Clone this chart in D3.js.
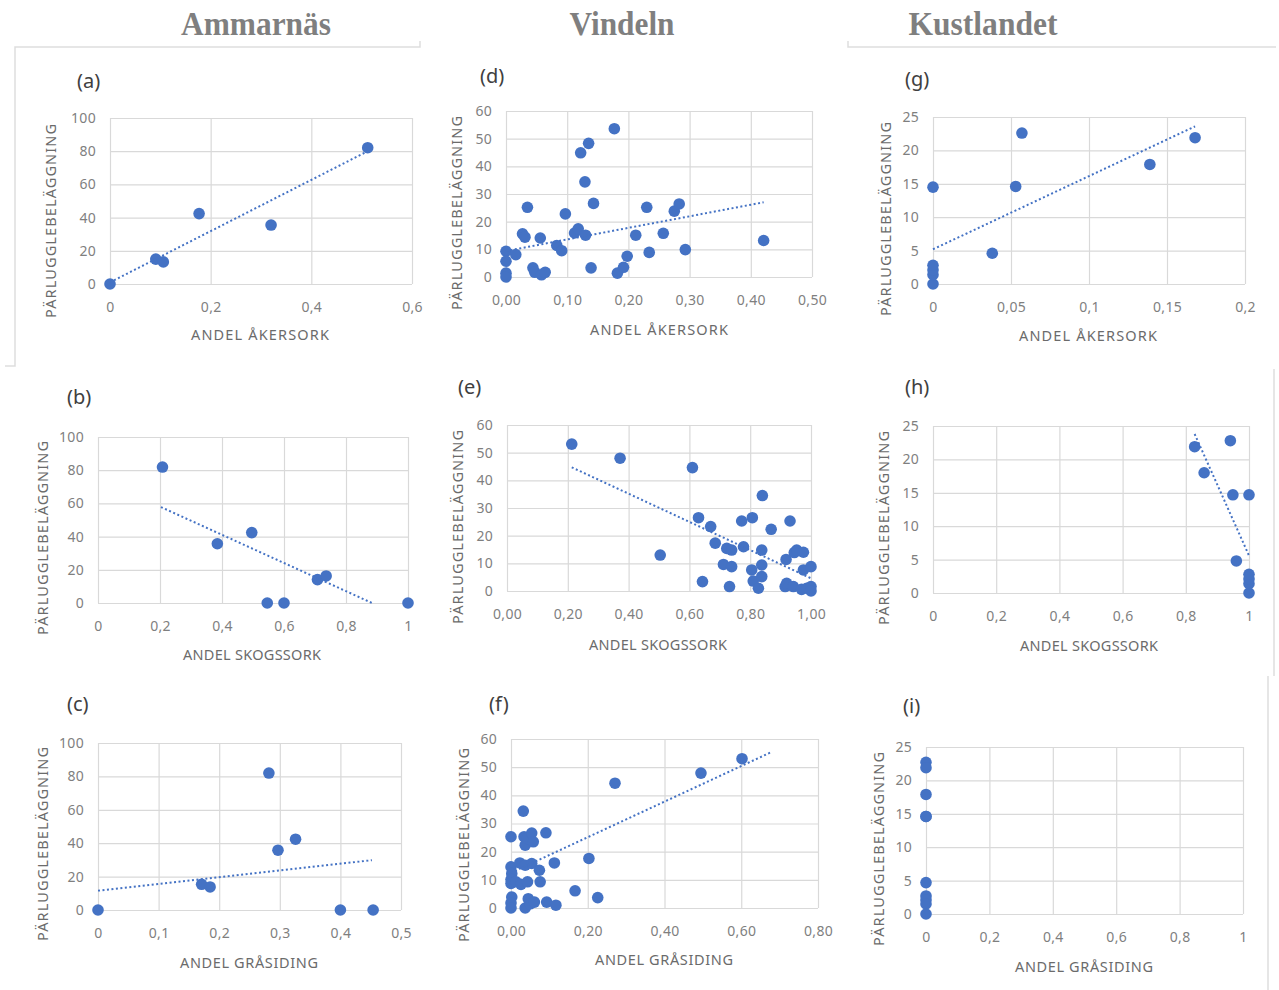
<!DOCTYPE html>
<html>
<head>
<meta charset="utf-8">
<script src="https://cdn.jsdelivr.net/npm/d3@7"></script>
<style>
  body { margin: 0; background: #ffffff; }
  svg { display: block; }
</style>
</head>
<body>
<div id="chart"></div>
<script>

//Region headings
const regions = ["Ammarnäs", "Vindeln", "Kustlandet"];

//Axis titles
const yTitle = "PÄRLUGGLEBELÄGGNING";
const xTitles = ["ANDEL ÅKERSORK", "ANDEL SKOGSSORK", "ANDEL GRÅSIDING"];

//Ammarnäs (a) åkersork
const aX = [0, 0.091, 0.106, 0.177, 0.32, 0.512];
const aY = [0, 15, 13.3, 42.4, 35.5, 82.1];
const aTrend = [[0, 1], [0.512, 80]];

//Ammarnäs (b) skogssork
const bX = [0.208, 0.385, 0.496, 0.546, 0.600, 0.708, 0.736, 1.0];
const bY = [81.9, 35.7, 42.4, 0, 0, 14.1, 16.3, 0];
const bTrend = [[0.203, 57.8], [0.884, 0]];

//Ammarnäs (c) gråsiding
const cX = [0, 0.171, 0.185, 0.282, 0.297, 0.326, 0.400, 0.454];
const cY = [0, 15.4, 13.8, 82, 35.8, 42.4, 0, 0];
const cTrend = [[0, 11.6], [0.452, 29.8]];

//Vindeln (d) åkersork
const dX = [0, 0, 0, 0, 0.016, 0.035, 0.027, 0.031, 0.044, 0.047, 0.056, 0.058, 0.064, 0.083, 0.091, 0.097, 0.112, 0.118,
            0.122, 0.135, 0.129, 0.130, 0.139, 0.143, 0.177, 0.182, 0.192, 0.198, 0.212, 0.230, 0.234, 0.257, 0.275, 0.283, 0.293, 0.421];
const dY = [9.3, 5.7, 1.4, 0, 8.1, 25.2, 15.6, 14.4, 3.3, 1.7, 14.1, 0.8, 1.7, 11.4, 9.5, 22.8, 15.9, 17.4,
            44.9, 48.3, 34.4, 15.1, 3.3, 26.6, 53.6, 1.4, 3.5, 7.5, 15.1, 25.2, 8.9, 15.8, 23.8, 26.4, 9.9, 13.2];
const dTrend = [[0, 9.4], [0.421, 27]];

//Vindeln (e) skogssork
const eX = [0.213, 0.372, 0.610, 0.504, 0.630, 0.643, 0.670, 0.685, 0.712, 0.723, 0.739, 0.739, 0.732, 0.772, 0.778, 0.807, 0.805, 0.810, 0.827,
            0.840, 0.838, 0.838, 0.838, 0.869, 0.918, 0.915, 0.920, 0.931, 0.945, 0.953, 0.942, 0.969, 0.975, 0.975, 0.986, 1.0, 1.0, 1.0];
const eY = [53.1, 48, 44.6, 13.0, 26.5, 3.4, 23.3, 17.3, 9.6, 15.4, 14.8, 8.8, 1.6, 25.3, 16.0, 26.5, 7.6, 3.6, 1.0,
            34.5, 14.8, 9.4, 5.2, 22.3, 11.4, 1.6, 2.8, 25.3, 13.9, 14.8, 1.6, 0.6, 14.0, 7.6, 1.0, 8.8, 1.6, 0];
const eTrend = [[0.213, 44.7], [1.0, 4.6]];

//Vindeln (f) gråsiding
const fX = [0, 0, 0.002, 0, 0, 0.002, 0, 0, 0.013, 0.023, 0.026, 0.032, 0.034, 0.037, 0.037, 0.037, 0.043, 0.043,
            0.045, 0.050, 0.054, 0.054, 0.058, 0.061, 0.074, 0.076, 0.091, 0.093, 0.113, 0.117, 0.167, 0.203, 0.226, 0.271, 0.495, 0.602];
const fY = [25.3, 14.6, 12.2, 10.1, 8.7, 3.9, 1.8, 0, 9.3, 16.0, 8.4, 34.4, 25.3, 22.3, 15.2, 0, 24.7, 9.3,
            3.3, 1.5, 26.6, 15.8, 23.5, 2.1, 13.4, 9.3, 26.7, 2.1, 16.0, 1.0, 6.1, 17.6, 3.7, 44.3, 47.9, 53.0];
const fTrend = [[0, 12.5], [0.676, 55.2]];

//Kustlandet (g) åkersork
const gX = [0, 0, 0, 0, 0, 0.038, 0.053, 0.057, 0.139, 0.168];
const gY = [0, 1.4, 2.1, 2.8, 14.5, 4.6, 14.6, 22.6, 17.9, 21.9];
const gTrend = [[0, 5.2], [0.168, 23.6]];

//Kustlandet (h) skogssork
const hX = [0.828, 0.858, 0.941, 0.949, 1.0, 0.96, 1, 1, 1, 1];
const hY = [21.9, 18.0, 22.8, 14.7, 14.7, 4.8, 0, 1.4, 2.1, 2.8];
const hTrend = [[0.828, 23.8], [1.0, 5.6]];

//Kustlandet (i) gråsiding
const iX = [0, 0, 0, 0, 0, 0, 0, 0, 0, 0];
const iY = [22.7, 21.9, 17.9, 14.6, 14.6, 4.7, 2.7, 2.1, 1.5, 0];

//Tick values
const xTicksA = [0, 0.2, 0.4, 0.6];
const xTicksC = [0, 0.1, 0.2, 0.3, 0.4, 0.5];
const xTicksD = [0, 0.1, 0.2, 0.3, 0.4, 0.5];
const xTicksF = [0, 0.2, 0.4, 0.6, 0.8];
const xTicksG = [0, 0.05, 0.1, 0.15, 0.2];
const xTicksUnit = [0, 0.2, 0.4, 0.6, 0.8, 1];
const yTicks100 = [0, 20, 40, 60, 80, 100];
const yTicks60 = [0, 10, 20, 30, 40, 50, 60];
const yTicks25 = [0, 5, 10, 15, 20, 25];

//Swedish decimal comma
const sv = d3.formatLocale({decimal: ",", thousands: " ", grouping: [3], currency: ["", " kr"]});
const fmtTrim = sv.format(".2~f");
const fmtFix = sv.format(".2f");

const blue = "#4472C4";

//Panels: data plus where each one sits on the page
const panels = [
  {lab: "(a)", xs: aX, ys: aY, trend: aTrend, xt: 0, xTicks: xTicksA, yTicks: yTicks100, fmt: fmtTrim,
   box: [110, 118, 412, 284], labPos: [77, 88], xtPos: [260, 340], ytPos: [56, 221]},
  {lab: "(b)", xs: bX, ys: bY, trend: bTrend, xt: 1, xTicks: xTicksUnit, yTicks: yTicks100, fmt: fmtTrim,
   box: [98, 437, 408, 603], labPos: [67, 404], xtPos: [252, 660], ytPos: [48, 538]},
  {lab: "(c)", xs: cX, ys: cY, trend: cTrend, xt: 2, xTicks: xTicksC, yTicks: yTicks100, fmt: fmtTrim,
   box: [98, 743, 401, 910], labPos: [67, 711], xtPos: [249, 968], ytPos: [48, 844]},
  {lab: "(d)", xs: dX, ys: dY, trend: dTrend, xt: 0, xTicks: xTicksD, yTicks: yTicks60, fmt: fmtFix,
   box: [506, 111, 812, 277], labPos: [480, 83], xtPos: [659, 335], ytPos: [462, 213]},
  {lab: "(e)", xs: eX, ys: eY, trend: eTrend, xt: 1, xTicks: xTicksUnit, yTicks: yTicks60, fmt: fmtFix,
   box: [507, 425, 811, 591], labPos: [458, 394], xtPos: [658, 650], ytPos: [463, 527]},
  {lab: "(f)", xs: fX, ys: fY, trend: fTrend, xt: 2, xTicks: xTicksF, yTicks: yTicks60, fmt: fmtFix,
   box: [511, 739, 818, 908], labPos: [489, 711], xtPos: [664, 965], ytPos: [469, 845]},
  {lab: "(g)", xs: gX, ys: gY, trend: gTrend, xt: 0, xTicks: xTicksG, yTicks: yTicks25, fmt: fmtTrim,
   box: [933, 117, 1245, 284], labPos: [905, 86], xtPos: [1088, 341], ytPos: [891, 219]},
  {lab: "(h)", xs: hX, ys: hY, trend: hTrend, xt: 1, xTicks: xTicksUnit, yTicks: yTicks25, fmt: fmtTrim,
   box: [933, 426, 1249, 593], labPos: [905, 394], xtPos: [1089, 651], ytPos: [889, 528]},
  {lab: "(i)", xs: iX, ys: iY, trend: null, xt: 2, xTicks: xTicksUnit, yTicks: yTicks25, fmt: fmtTrim,
   box: [926, 747, 1243, 914], labPos: [903, 713], xtPos: [1084, 972], ytPos: [884, 849]}
];

class ScatterPanel {

    constructor (svg, p)
    {
        let [left, top, right, bottom] = p.box;
        let g = svg.append("g");

        //Scales
        let x = d3.scaleLinear().domain(d3.extent(p.xTicks)).range([left, right]);
        let y = d3.scaleLinear().domain(d3.extent(p.yTicks)).range([bottom, top]);

        //Grid + tick labels
        let xAxis = g.append("g")
            .attr("transform", `translate(0,${bottom})`)
            .call(d3.axisBottom(x).tickValues(p.xTicks).tickFormat(p.fmt)
                .tickSize(-(bottom - top)).tickPadding(18));

        let yAxis = g.append("g")
            .attr("transform", `translate(${left},0)`)
            .call(d3.axisLeft(y).tickValues(p.yTicks).tickFormat(d3.format("d"))
                .tickSize(-(right - left)).tickPadding(14));

        [xAxis, yAxis].forEach(a => {
            a.select(".domain").remove();
            a.selectAll("line").attr("stroke", "#d9d9d9").attr("stroke-width", 1.2);
            a.selectAll("text")
                .attr("fill", "#7f7f7f")
                .style("font-family", "'Noto Sans', sans-serif")
                .style("font-size", "14px")
                .style("letter-spacing", "0.3px");
        });

        //Dots
        let pts = p.xs.map((v, i) => [v, p.ys[i]]);
        g.append("g").selectAll("circle")
            .data(pts)
            .join("circle")
            .attr("cx", d => x(d[0]))
            .attr("cy", d => y(d[1]))
            .attr("r", 5.8)
            .attr("fill", blue);

        //Dotted trend line
        if (p.trend) {
            g.append("path")
                .datum(p.trend)
                .attr("d", d3.line().x(d => x(d[0])).y(d => y(d[1])))
                .attr("fill", "none")
                .attr("stroke", blue)
                .attr("stroke-width", 2)
                .attr("stroke-dasharray", "2,2.5");
        }

        //Panel letter
        g.append("text")
            .attr("x", p.labPos[0]).attr("y", p.labPos[1])
            .attr("fill", "#404040")
            .style("font-family", "'Noto Sans', sans-serif")
            .style("font-size", "20px")
            .text(p.lab);

        //Axis titles
        g.append("text")
            .attr("x", p.xtPos[0]).attr("y", p.xtPos[1])
            .attr("text-anchor", "middle")
            .attr("fill", "#6b6b6b")
            .attr("textLength", 138).attr("lengthAdjust", "spacing")
            .style("font-family", "'Noto Sans', sans-serif")
            .style("font-size", "14.5px")
            .text(xTitles[p.xt]);

        g.append("text")
            .attr("transform", `translate(${p.ytPos[0]},${p.ytPos[1]}) rotate(-90)`)
            .attr("text-anchor", "middle")
            .attr("fill", "#6b6b6b")
            .attr("textLength", 194).attr("lengthAdjust", "spacing")
            .style("font-family", "'Noto Sans', sans-serif")
            .style("font-size", "14.5px")
            .text(yTitle);
    };

}

//Adds svg
const svg = d3.select("#chart").append("svg")
    .attr("width", 1279)
    .attr("height", 990);

//Frame lines from the source layout
const frame = [
    [[5, 366], [15, 366], [15, 47], [420, 47], [420, 41]],
    [[848, 41], [848, 47], [1276, 47]],
    [[1274, 369], [1274, 676]],
    [[1268, 676], [1268, 990]]
];
svg.append("g").selectAll("path")
    .data(frame)
    .join("path")
    .attr("d", d3.line())
    .attr("fill", "none")
    .attr("stroke", "#dedede")
    .attr("stroke-width", 1.5);

//Region headings
const headX = [256, 622, 983];
const headW = [150, 105, 149];
svg.append("g").selectAll("text")
    .data(regions)
    .join("text")
    .attr("x", (d, i) => headX[i])
    .attr("y", 35)
    .attr("text-anchor", "middle")
    .attr("fill", "#7f7f7f")
    .attr("textLength", (d, i) => headW[i])
    .attr("lengthAdjust", "spacingAndGlyphs")
    .style("font-family", "'Liberation Serif', serif")
    .style("font-weight", "bold")
    .style("font-size", "33px")
    .text(d => d);

panels.forEach(p => new ScatterPanel(svg, p));

</script>
</body>
</html>
